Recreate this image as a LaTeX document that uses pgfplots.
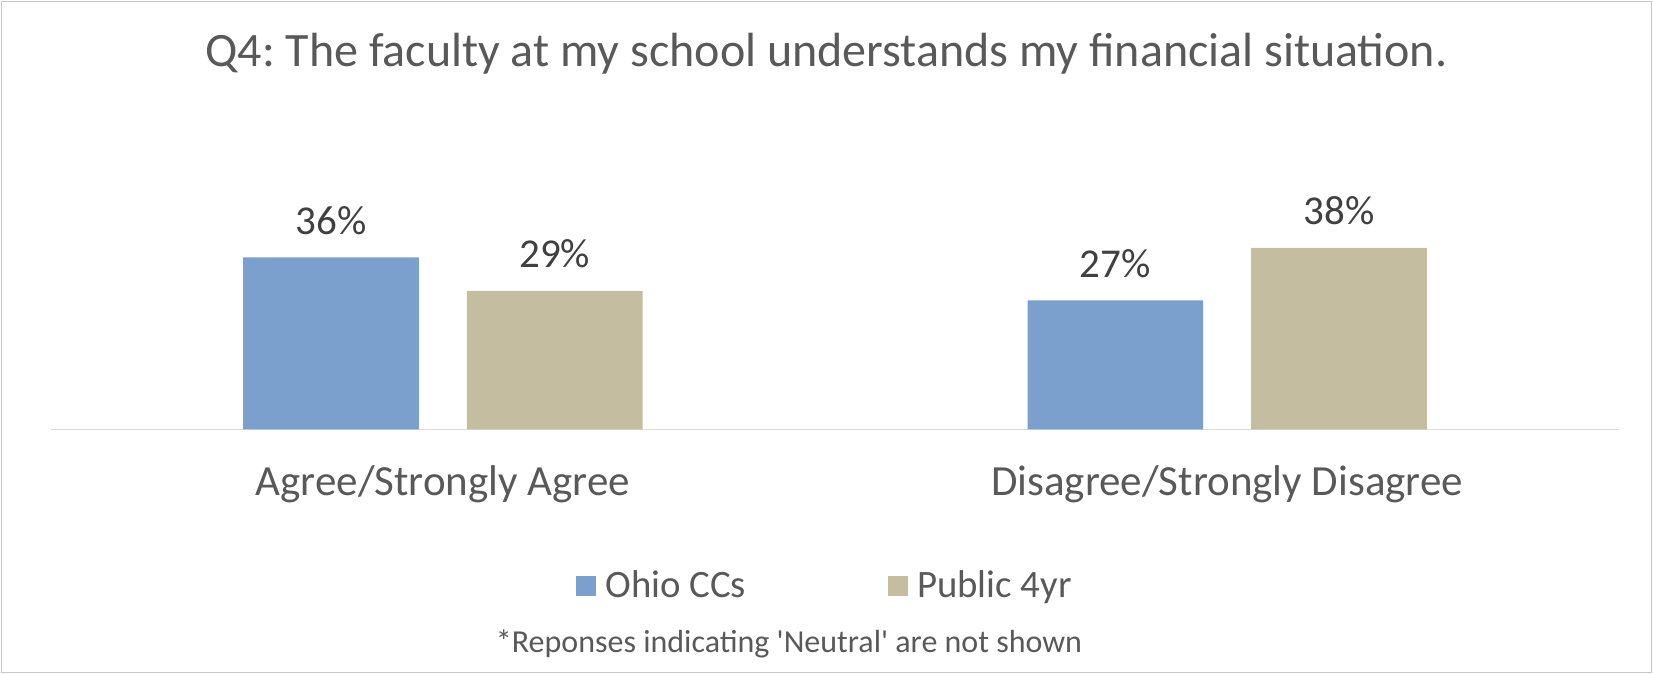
\documentclass[border=0pt]{standalone}
\usepackage{pgfplots}
\pgfplotsset{compat=1.18}
\usepackage{fontspec}
\setmainfont{Carlito}
\frenchspacing
\definecolor{cblue}{HTML}{7BA0CD}
\definecolor{ctan}{HTML}{C4BD9F}
\definecolor{txt}{HTML}{595959}
\definecolor{lbl}{HTML}{404040}
\begin{document}
\begin{tikzpicture}
\useasboundingbox (0,0) rectangle (826.5pt,337pt);
\draw[color=black!22, line width=0.75pt] (0.75pt,0.75pt) rectangle (825.75pt,336.25pt);
\begin{axis}[
  at={(25.35pt,122.25pt)}, anchor=south west,
  scale only axis, width=784.3pt, height=119.5pt,
  xmin=-0.5, xmax=1.5, ymin=0, ymax=50,
  ybar=23.95pt, bar width=87.85pt,
  axis x line=bottom, axis y line=none,
  axis line style={-},
  x axis line style={-, draw=black!15, line width=0.75pt},
  xtick={0,1},
  xticklabels={Agree/Strongly Agree, Disagree/Strongly Disagree},
  major tick length=0pt,
  xtick style={draw=none},
  xticklabel style={anchor=base, yshift=-33.25pt, font=\fontsize{21.5pt}{25pt}\selectfont, text=txt},
  ytick=\empty,
  /pgf/number format/assume math mode=true,
  nodes near coords={\pgfmathprintnumber[fixed,precision=0]{\pgfplotspointmeta}\%},
  nodes near coords style={anchor=base, yshift=11.7pt, font=\fontsize{20.5pt}{24pt}\selectfont, text=lbl},
  clip=false,
  legend columns=2,
  legend image code/.code={\fill[#1] (0pt,-5pt) rectangle (10pt,5pt);},
  legend style={draw=none, fill=none, inner sep=0pt,
    at={(axis description cs:0.3349,-0.653)}, anchor=west,
    font=\fontsize{19.4pt}{22pt}\selectfont, text=txt,
    nodes={inner xsep=0pt},
    /tikz/every odd column/.append style={column sep=4.5pt},
    /tikz/every even column/.append style={column sep=71pt}},
]
\addplot[fill=cblue, draw=none] coordinates {(0,36) (1,27)};
\addplot[fill=ctan, draw=none] coordinates {(0,29) (1,38)};
\legend{Ohio CCs, Public 4yr}
\end{axis}
\node[anchor=base, font=\fontsize{24pt}{28pt}\selectfont, text=txt] at (413.25pt,303.65pt) {Q4: The faculty at my school understands my financial situation.};
\node[anchor=base, font=\fontsize{16pt}{19pt}\selectfont, text=txt] at (394.5pt,10.5pt) {*Reponses indicating \textquotesingle Neutral\textquotesingle{} are not shown};
\end{tikzpicture}
\end{document}
